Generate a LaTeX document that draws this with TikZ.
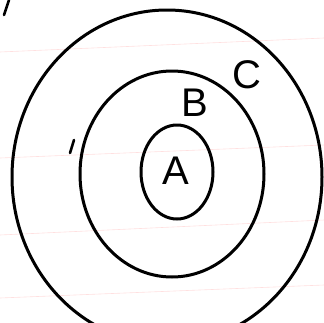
\documentclass[tikz,border=0pt]{standalone}
\usepackage{fontspec}
\setmainfont{Liberation Sans}
\usetikzlibrary{shapes.geometric}
\begin{document}
\begin{tikzpicture}[x=1pt,y=-1pt,
  ring/.style={ellipse,draw=black,line width=3pt,inner sep=0pt},
  lab/.style={font=\fontsize{40}{40}\selectfont,inner sep=0pt},
  rule/.style={draw=red!12,line width=0.6pt}]
\useasboundingbox (0,0) rectangle (324,322);
\fill[white] (0,0) rectangle (324,322);
\begin{scope}
\clip (0,0) rectangle (324,322);
\draw[rule] (0,52) -- (324,38);
\draw[rule] (0,158) -- (324,145);
\draw[rule] (0,235) -- (324,220);
\draw[rule] (0,298) -- (324,285);
\node[ring,minimum width=310,minimum height=334] (outer) at (167,177) {};
\node[ring,minimum width=184,minimum height=206] (middle) at (172,174) {};
\node[ring,minimum width=72,minimum height=94] (inner) at (177,172) {};
\node[lab] (A) at (176,171) {A};
\node[lab] (B) at (195,103) {B};
\node[lab] (C) at (247,75) {C};
\coordinate (s1) at (4,15);
\coordinate (s2) at (9,0);
\draw[line width=2.6pt,line cap=round] (s1) -- (s2);
\coordinate (t1) at (70,153);
\coordinate (t2) at (74,140);
\draw[line width=2.6pt,line cap=round] (t1) -- (t2);
\end{scope}
\end{tikzpicture}
\end{document}
